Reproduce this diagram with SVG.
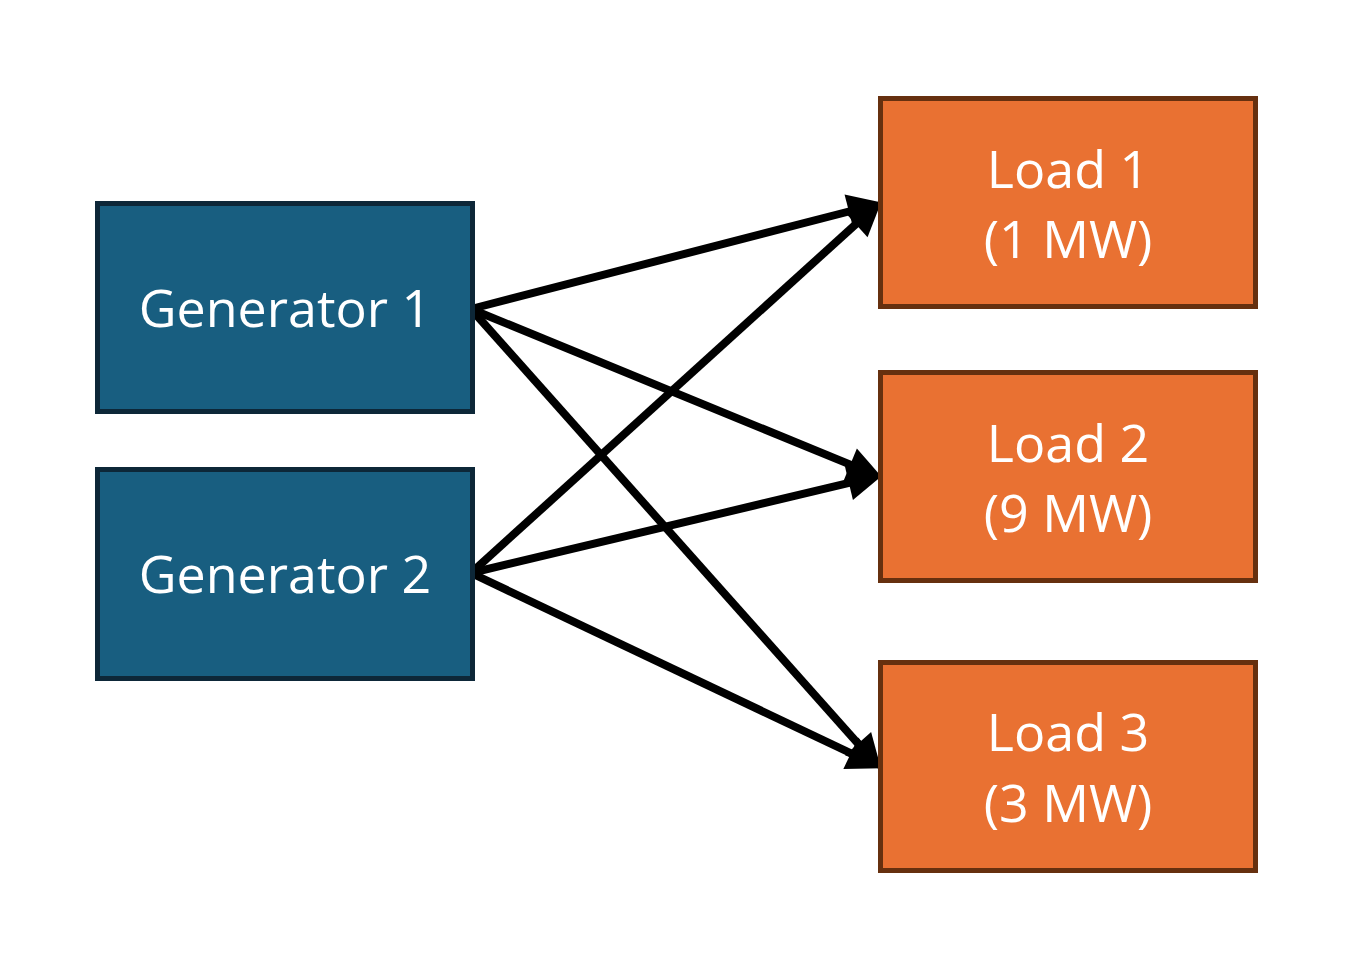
<svg xmlns="http://www.w3.org/2000/svg" width="1347" height="977" viewBox="0 0 1347 977">
<style>
.gen{fill:#185e80;stroke:#0d2738;stroke-width:5}
.load{fill:#e97132;stroke:#66300f;stroke-width:5}
.t{fill:#ffffff;font-family:"Open Sans","Liberation Sans",sans-serif;font-size:52px;text-anchor:middle}
.c{fill:none;stroke:#000;stroke-width:8;marker-end:url(#ah)}
</style>
<defs>
<marker id="ah" markerUnits="userSpaceOnUse" markerWidth="40" markerHeight="40" viewBox="0 -16 30 32" refX="8" refY="0" orient="auto">
<path d="M0,-14 L28,0 L0,14 Z" fill="#000"/>
</marker>
</defs>
<rect width="1347" height="977" fill="#ffffff"/>
<g id="connectors">
<path class="c" d="M471,309 L858.6,209.0"/>
<path class="c" d="M471,309 L859.5,468.4"/>
<path class="c" d="M471,309 L864.7,751.1"/>
<path class="c" d="M471,573 L863.2,217.5"/>
<path class="c" d="M471,573 L858.6,480.7"/>
<path class="c" d="M471,573 L859.9,757.5"/>
</g>
<g id="gen1"><rect class="gen" x="97.5" y="203.5" width="375" height="208"/><text class="t" x="285" y="327">Generator 1</text></g>
<g id="gen2"><rect class="gen" x="97.5" y="469.5" width="375" height="209"/><text class="t" x="285" y="593">Generator 2</text></g>
<g id="load1"><rect class="load" x="880.5" y="98.5" width="375" height="208"/><text class="t" x="1068" y="188">Load 1</text><text class="t" x="1068" y="258">(1 MW)</text></g>
<g id="load2"><rect class="load" x="880.5" y="372.5" width="375" height="208"/><text class="t" x="1068" y="462">Load 2</text><text class="t" x="1068" y="532">(9 MW)</text></g>
<g id="load3"><rect class="load" x="880.5" y="662.5" width="375" height="208"/><text class="t" x="1068" y="751">Load 3</text><text class="t" x="1068" y="822">(3 MW)</text></g>
</svg>
